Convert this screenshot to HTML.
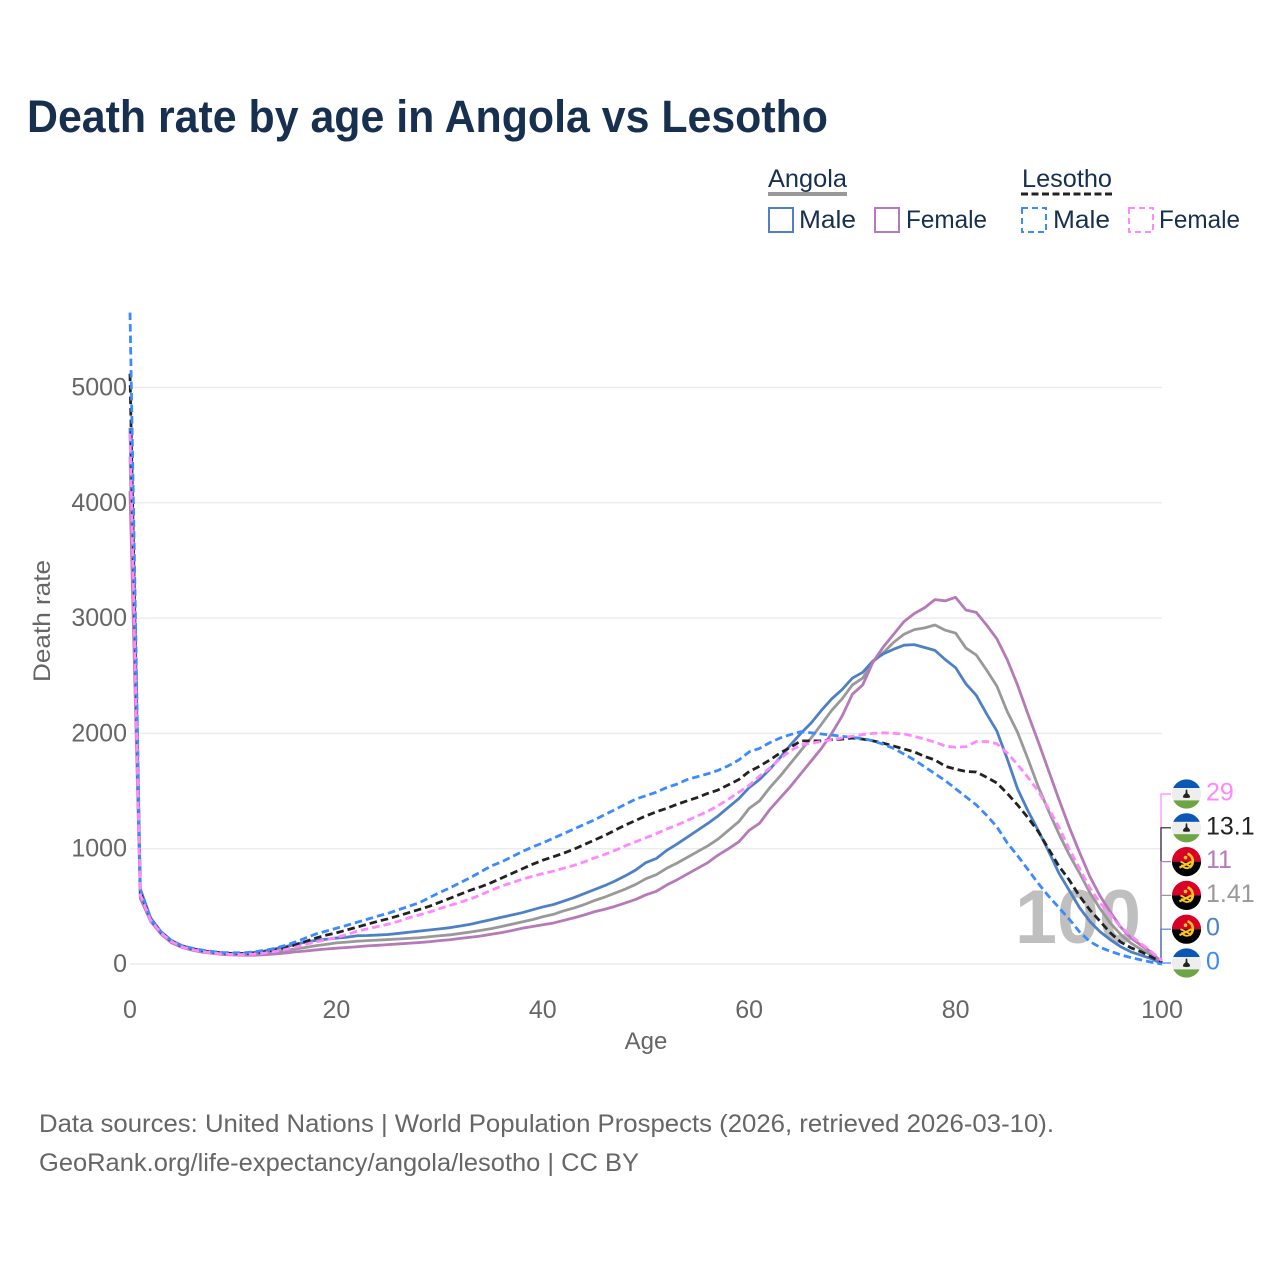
<!DOCTYPE html>
<html lang="en">
<head>
<meta charset="utf-8">
<title>Death rate by age in Angola vs Lesotho</title>
<style>
html,body{margin:0;padding:0;background:#fff;width:1280px;height:1280px;overflow:hidden}
svg{display:block;font-family:"Liberation Sans",sans-serif}
</style>
</head>
<body>
<svg id="chart" xmlns="http://www.w3.org/2000/svg" width="1280" height="1280" viewBox="0 0 1280 1280">
  <defs>
    <clipPath id="flag-clip"><circle cx="0" cy="0" r="14.6"/></clipPath>
    <g id="flag-lesotho">
      <g clip-path="url(#flag-clip)">
        <rect x="-15" y="-15" width="30" height="30" fill="#eeeeee"/>
        <rect x="-15" y="-15" width="30" height="9" fill="#0a57b5"/>
        <rect x="-15" y="6.4" width="30" height="9" fill="#6da544"/>
        <path d="M-0.7 -4.4 L0.7 -4.4 L1 -0.6 Q3.6 1 3.6 3.4 Q0 4.6 -3.6 3.4 Q-3.6 1 -1 -0.6 Z" fill="#222"/>
      </g>
    </g>
    <g id="flag-angola">
      <g clip-path="url(#flag-clip)">
        <rect x="-15" y="-15" width="30" height="15" fill="#d80027"/>
        <rect x="-15" y="0" width="30" height="15" fill="#000"/>
        <path d="M1 -8 A8 8 0 0 1 3 6" fill="none" stroke="#ffc61c" stroke-width="2.6"/>
        <path d="M-7 6 L5 0" fill="none" stroke="#ffc61c" stroke-width="2.2"/>
        <path d="M-6 0 L4 5 M-5 3 A6 6 0 0 0 3 6" fill="none" stroke="#ffc61c" stroke-width="1.8"/>
        <circle cx="-1" cy="-4" r="1.8" fill="#ffc61c"/>
      </g>
    </g>
  </defs>

  <rect x="0" y="0" width="1280" height="1280" fill="#ffffff"/>

  <text x="27" y="132" font-size="45" font-weight="700" fill="#17304f" textLength="801" lengthAdjust="spacingAndGlyphs">Death rate by age in Angola vs Lesotho</text>

  <g font-size="25" fill="#17304f">
    <text x="768" y="187" textLength="79" lengthAdjust="spacingAndGlyphs">Angola</text>
    <line x1="768" x2="847" y1="194" y2="194" stroke="#999999" stroke-width="4"/>
    <text x="1022" y="187" textLength="90" lengthAdjust="spacingAndGlyphs">Lesotho</text>
    <line x1="1021" x2="1112" y1="194" y2="194" stroke="#222222" stroke-width="3" stroke-dasharray="7 3.5"/>
    <rect x="769" y="208" width="24" height="24" fill="none" stroke="#4e80c6" stroke-width="2"/>
    <text x="799" y="228" textLength="57" lengthAdjust="spacingAndGlyphs">Male</text>
    <rect x="875" y="208" width="24" height="24" fill="none" stroke="#b57ab8" stroke-width="2"/>
    <text x="906" y="228" textLength="81" lengthAdjust="spacingAndGlyphs">Female</text>
    <rect x="1022" y="208" width="24" height="24" fill="none" stroke="#3b8aff" stroke-width="2" stroke-dasharray="6 4"/>
    <text x="1053" y="228" textLength="57" lengthAdjust="spacingAndGlyphs">Male</text>
    <rect x="1129" y="208" width="24" height="24" fill="none" stroke="#ff88ff" stroke-width="2" stroke-dasharray="6 4"/>
    <text x="1159" y="228" textLength="81" lengthAdjust="spacingAndGlyphs">Female</text>
  </g>

  <g id="grid"></g>
  <text x="1078" y="943" font-size="76" font-weight="700" fill="#bfbfbf" text-anchor="middle" textLength="126" lengthAdjust="spacingAndGlyphs">100</text>
  <g id="y-ticks"></g>
  <g id="x-ticks"></g>
  <text transform="translate(50,621) rotate(-90)" font-size="24" fill="#666666" text-anchor="middle" textLength="122" lengthAdjust="spacingAndGlyphs">Death rate</text>
  <text x="646" y="1049" font-size="24" fill="#666666" text-anchor="middle">Age</text>
  <g id="connectors"></g>
  <g id="series"></g>
  <g id="end-labels"></g>

  <g font-size="25" fill="#666666">
    <text x="39" y="1132" textLength="1015" lengthAdjust="spacingAndGlyphs">Data sources: United Nations | World Population Prospects (2026, retrieved 2026-03-10).</text>
    <text x="39" y="1171" textLength="600" lengthAdjust="spacingAndGlyphs">GeoRank.org/life-expectancy/angola/lesotho | CC BY</text>
  </g>
</svg>

<script>
const yTickValues = [0, 1000, 2000, 3000, 4000, 5000];
const xTickValues = [0, 20, 40, 60, 80, 100];

const angolaBoth = [
  4400,600,385,270,195,150,128,110,98,90,
  85,85,88,95,105,118,130,143,158,170,
  183,190,197,203,207,212,217,222,228,236,
  245,253,265,278,292,307,325,345,365,385,
  410,430,460,485,515,550,580,615,650,690,
  740,775,830,875,925,975,1025,1085,1160,1235,
  1350,1415,1530,1630,1740,1850,1960,2080,2200,2300,
  2420,2480,2620,2700,2790,2860,2900,2915,2940,2895,
  2870,2740,2680,2550,2410,2190,2010,1780,1540,1330,
  1130,950,790,620,480,355,255,180,125,75,1.41
];
const angolaMale = [
  4650,650,400,280,205,160,135,115,103,95,
  92,93,100,112,130,150,170,190,205,215,
  225,232,245,247,251,256,265,275,285,295,
  305,315,330,345,365,385,405,425,445,470,
  495,515,545,575,610,645,680,720,765,815,
  880,915,985,1040,1100,1160,1220,1285,1360,1435,
  1530,1600,1690,1790,1900,2000,2090,2200,2300,2380,
  2480,2530,2630,2690,2730,2765,2770,2745,2720,2640,
  2570,2430,2330,2170,2020,1780,1520,1330,1160,980,
  790,640,490,370,280,210,150,105,75,45,0
];
const angolaFemale = [
  4100,570,370,260,185,145,120,103,92,83,
  78,76,76,80,87,95,105,113,122,130,
  137,143,150,157,162,168,174,180,186,193,
  203,210,222,232,243,258,272,290,310,325,
  340,355,378,400,425,453,475,500,530,560,
  600,630,685,730,780,830,880,945,1000,1060,
  1160,1220,1340,1440,1540,1650,1760,1870,2000,2150,
  2340,2420,2620,2750,2860,2970,3040,3090,3160,3150,
  3180,3070,3050,2940,2820,2640,2420,2170,1930,1680,
  1430,1190,970,760,590,450,320,225,160,100,11
];
const lesothoBoth = [
  5120,620,385,275,200,155,132,115,103,95,
  90,90,95,105,120,140,165,195,225,250,
  270,295,320,345,370,392,418,445,472,500,
  535,570,605,640,670,705,745,785,825,865,
  900,930,960,995,1035,1075,1115,1160,1205,1245,
  1285,1320,1350,1385,1415,1445,1480,1510,1555,1600,
  1670,1715,1770,1830,1880,1935,1935,1935,1945,1950,
  1960,1950,1935,1915,1890,1865,1840,1800,1770,1715,
  1690,1670,1665,1620,1570,1480,1380,1270,1150,1000,
  850,730,590,470,370,270,190,140,105,60,13.1
];
const lesothoMale = [
  5650,640,390,280,205,160,138,120,108,100,
  97,97,105,118,135,160,190,225,260,285,
  310,335,362,388,415,440,470,500,530,575,
  620,660,705,750,800,850,885,930,975,1015,
  1050,1090,1130,1170,1210,1250,1295,1340,1385,1430,
  1460,1490,1530,1560,1600,1625,1650,1680,1720,1770,
  1840,1870,1920,1960,1990,2015,2005,1995,1985,1975,
  1965,1955,1935,1905,1870,1820,1770,1710,1650,1590,
  1520,1450,1380,1290,1190,1050,940,820,700,590,
  490,390,280,195,145,110,80,55,35,15,0
];
const lesothoFemale = [
  4600,600,380,270,195,150,125,108,96,87,
  82,82,86,94,108,125,145,170,190,210,
  230,255,285,305,325,345,370,400,425,450,
  480,508,535,565,600,640,675,705,735,760,
  785,805,830,855,885,920,950,985,1025,1060,
  1095,1130,1170,1205,1245,1285,1325,1375,1430,1490,
  1550,1630,1700,1780,1850,1900,1915,1930,1945,1960,
  1975,1990,2000,2005,2000,1995,1975,1950,1925,1890,
  1880,1885,1930,1930,1910,1830,1730,1620,1500,1350,
  1190,1000,830,660,530,425,320,245,175,105,29
];

const svgNS = 'http://www.w3.org/2000/svg';
const xScale = function (age) { return 130 + age * 10.32; };
const yScale = function (rate) { return 964 - rate * 0.1153; };

function make(tag, attrs, parent) {
  const el = document.createElementNS(svgNS, tag);
  Object.keys(attrs).forEach(function (k) { el.setAttribute(k, attrs[k]); });
  parent.appendChild(el);
  return el;
}

const gridLayer = document.getElementById('grid');
const yLayer = document.getElementById('y-ticks');
yTickValues.forEach(function (v) {
  const line = make('line', {x1: 130, x2: 1162, y1: yScale(v), y2: yScale(v), stroke: '#ececec', 'stroke-width': 1.5}, gridLayer);
  
  
  const label = make('text', {x: 127, y: yScale(v) + 8, 'font-size': 25, fill: '#666666', 'text-anchor': 'end'}, yLayer);
  
  
  label.textContent = String(v);
});

const xLayer = document.getElementById('x-ticks');
xTickValues.forEach(function (v) {
  const label = make('text', {x: xScale(v), y: 1018, 'font-size': 25, fill: '#666666', 'text-anchor': 'middle'}, xLayer);
  
  
  label.textContent = String(v);
});

function linePath(values) {
  return values.map(function (v, i) {
    return (i === 0 ? 'M' : 'L') + xScale(i).toFixed(2) + ' ' + yScale(v).toFixed(2);
  }).join(' ');
}

const seriesLayer = document.getElementById('series');
function drawSeries(values, color, dash, name) {
  const path = make('path', {d: linePath(values), fill: 'none', stroke: color, 'stroke-width': 2.8, 'stroke-linejoin': 'round'}, seriesLayer);
  if (dash) path.setAttribute('stroke-dasharray', '7.5 4');
  
  
}
drawSeries(angolaBoth, '#999999', false, 'line-angola-both');
drawSeries(angolaMale, '#4e80c6', false, 'line-angola-male');
drawSeries(angolaFemale, '#b57ab8', false, 'line-angola-female');
drawSeries(lesothoBoth, '#222222', true, 'line-lesotho-both');
drawSeries(lesothoMale, '#3b8aff', true, 'line-lesotho-male');
drawSeries(lesothoFemale, '#ff88ff', true, 'line-lesotho-female');

const connectorLayer = document.getElementById('connectors');
const labelLayer = document.getElementById('end-labels');
const labelBottom = 963;
const labelStep = 33.8;
function endValue(values) { return values[values.length - 1]; }
function drawEnd(values, slot, color, flagId, name) {
  const ly = labelBottom - slot * labelStep;
  const x0 = xScale(100) - 1;
  const conn = make('path', {d: 'M' + x0 + ' ' + yScale(endValue(values)) + ' L' + x0 + ' ' + ly + ' L' + (x0 + 10) + ' ' + ly, fill: 'none', stroke: color, 'stroke-width': 1.2}, connectorLayer);
  
  
  const flag = make('use', {href: '#' + flagId, x: 1186.5, y: ly}, labelLayer);
  
  
  const text = make('text', {x: 1206, y: ly + 6.5, 'font-size': 25, fill: color}, labelLayer);
  
  
  text.textContent = String(endValue(values));
}
drawEnd(lesothoFemale, 5, '#ff88ff', 'flag-lesotho', 'end-lesotho-female');
drawEnd(lesothoBoth, 4, '#222222', 'flag-lesotho', 'end-lesotho-both');
drawEnd(angolaFemale, 3, '#b57ab8', 'flag-angola', 'end-angola-female');
drawEnd(angolaBoth, 2, '#999999', 'flag-angola', 'end-angola-both');
drawEnd(angolaMale, 1, '#4e80c6', 'flag-angola', 'end-angola-male');
drawEnd(lesothoMale, 0, '#3b8aff', 'flag-lesotho', 'end-lesotho-male');
</script>
</body>
</html>
